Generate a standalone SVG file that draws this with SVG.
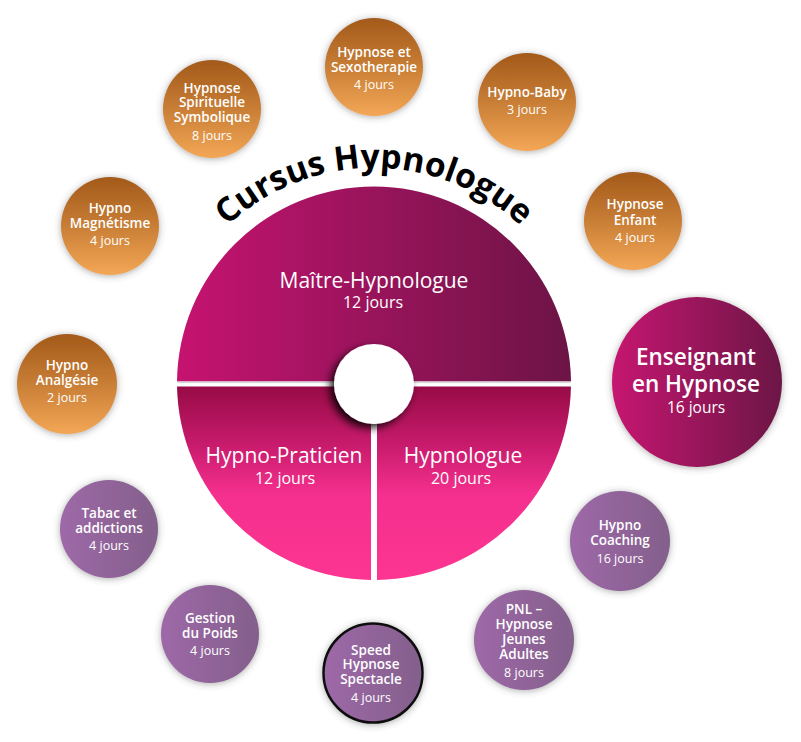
<svg xmlns="http://www.w3.org/2000/svg" width="801" height="742" viewBox="0 0 801 742">
<defs>
<style>
.t{font-family:"Open Sans","Liberation Sans",sans-serif;fill:#fff;text-anchor:middle}
.h{font-size:13.5px;font-weight:600}
.d{font-size:12.5px;font-weight:400}
.big{font-size:21px;font-weight:500}
.bd{font-size:16px;font-weight:400}
.org{fill:url(#gOrange);filter:url(#sh)}
.pur{fill:url(#gPurple);filter:url(#sh)}
</style>
<linearGradient id="gOrange" x1="0" y1="0" x2="0" y2="1">
<stop offset="0" stop-color="#a35a1a"/>
<stop offset="0.45" stop-color="#c47a32"/>
<stop offset="1" stop-color="#f3a756"/>
</linearGradient>
<linearGradient id="gPurple" x1="0" y1="0" x2="1" y2="0">
<stop offset="0" stop-color="#9e68a8"/>
<stop offset="1" stop-color="#83608b"/>
</linearGradient>
<linearGradient id="gMag" x1="0" y1="0" x2="1" y2="0">
<stop offset="0" stop-color="#c61370"/>
<stop offset="1" stop-color="#6c1446"/>
</linearGradient>
<linearGradient id="gPink" gradientUnits="userSpaceOnUse" x1="0" y1="387" x2="0" y2="580">
<stop offset="0" stop-color="#980b46"/>
<stop offset="0.3" stop-color="#c81b6d"/>
<stop offset="0.55" stop-color="#f42f8d"/>
<stop offset="1" stop-color="#fd3592"/>
</linearGradient>
<filter id="sh" x="-30%" y="-30%" width="160%" height="160%">
<feDropShadow dx="0" dy="1" stdDeviation="3.5" flood-color="#444" flood-opacity="0.45"/>
</filter>
<filter id="hsh" x="-40%" y="-40%" width="180%" height="180%">
<feDropShadow dx="-4" dy="4" stdDeviation="4" flood-color="#000" flood-opacity="0.9"/>
</filter>
<path id="arc" d="M 187.8,275.5 A 215 215 0 0 1 560.2,275.5"/>
</defs>
<rect width="801" height="742" fill="#fff"/>

<g id="cursus">
<path id="maitre" d="M 177.01,381.5 A 197 197 0 0 1 570.99,381.5 Z" fill="url(#gMag)"/>
<path id="praticien" d="M 177.03,386.5 L 371,386.5 L 371,579.98 A 197 197 0 0 1 177.03,386.5 Z" fill="url(#gPink)"/>
<path id="hypnologue" d="M 377,386.5 L 570.97,386.5 A 197 197 0 0 1 377,579.98 Z" fill="url(#gPink)"/>
<rect x="178" y="381.5" width="392" height="1.6" fill="#d8d8d8"/>
<circle cx="374" cy="384" r="40" fill="#fff" filter="url(#hsh)"/>
<text class="t big" x="374" y="288">Maître-Hypnologue</text>
<text class="t bd" x="373" y="308">12 jours</text>
<text class="t big" x="284" y="463">Hypno-Praticien</text>
<text class="t bd" x="285" y="484">12 jours</text>
<text class="t big" x="463" y="463">Hypnologue</text>
<text class="t bd" x="461" y="484">20 jours</text>
</g>

<g id="title">
<text font-family="'Open Sans','Liberation Sans',sans-serif" font-size="33.5" font-weight="700" fill="#000" text-anchor="middle"><textPath href="#arc" startOffset="50%">Cursus Hypnologue</textPath></text>
</g>

<g id="sexotherapie">
<circle class="org" cx="374" cy="67" r="49"/>
<text class="t h" x="374" y="57">Hypnose et</text>
<text class="t h" x="374" y="72">Sexotherapie</text>
<text class="t d" x="374" y="89">4 jours</text>
</g>
<g id="baby">
<circle class="org" cx="527" cy="102" r="49"/>
<text class="t h" x="527" y="97">Hypno-Baby</text>
<text class="t d" x="527" y="114">3 jours</text>
</g>
<g id="enfant">
<circle class="org" cx="633" cy="221" r="49"/>
<text class="t h" x="635" y="209">Hypnose</text>
<text class="t h" x="635" y="225">Enfant</text>
<text class="t d" x="635" y="242">4 jours</text>
</g>
<g id="spirituelle">
<circle class="org" cx="212" cy="109" r="49"/>
<text class="t h" x="212" y="93">Hypnose</text>
<text class="t h" x="212" y="107">Spirituelle</text>
<text class="t h" x="212" y="122">Symbolique</text>
<text class="t d" x="212" y="140">8 jours</text>
</g>
<g id="magnetisme">
<circle class="org" cx="110" cy="226" r="49"/>
<text class="t h" x="110" y="213">Hypno</text>
<text class="t h" x="110" y="228">Magnétisme</text>
<text class="t d" x="110" y="245">4 jours</text>
</g>
<g id="analgesie">
<circle class="org" cx="67" cy="384" r="50"/>
<text class="t h" x="67" y="370">Hypno</text>
<text class="t h" x="67" y="385">Analgésie</text>
<text class="t d" x="67" y="402">2 jours</text>
</g>

<g id="enseignant">
<circle cx="697" cy="382" r="85" fill="url(#gMag)" filter="url(#sh)"/>
<text class="t" x="696" y="365" font-size="22.5" font-weight="600">Enseignant</text>
<text class="t" x="696" y="392" font-size="22.5" font-weight="600">en Hypnose</text>
<text class="t" x="696" y="413" font-size="15.5">16 jours</text>
</g>

<g id="tabac">
<circle class="pur" cx="109" cy="529" r="49"/>
<text class="t h" x="109" y="518">Tabac et</text>
<text class="t h" x="109" y="533">addictions</text>
<text class="t d" x="109" y="550">4 jours</text>
</g>
<g id="poids">
<circle class="pur" cx="210" cy="634" r="49"/>
<text class="t h" x="210" y="623">Gestion</text>
<text class="t h" x="210" y="638">du Poids</text>
<text class="t d" x="210" y="655">4 jours</text>
</g>
<g id="speed">
<circle cx="373" cy="673" r="49.5" fill="url(#gPurple)" stroke="#111" stroke-width="2.5" filter="url(#sh)"/>
<text class="t h" x="371" y="655">Speed</text>
<text class="t h" x="371" y="669">Hypnose</text>
<text class="t h" x="371" y="684">Spectacle</text>
<text class="t d" x="371" y="702">4 jours</text>
</g>
<g id="pnl">
<circle class="pur" cx="524" cy="640" r="50"/>
<text class="t h" x="524" y="614">PNL –</text>
<text class="t h" x="524" y="629">Hypnose</text>
<text class="t h" x="524" y="644">Jeunes</text>
<text class="t h" x="524" y="659">Adultes</text>
<text class="t d" x="524" y="677">8 jours</text>
</g>
<g id="coaching">
<circle class="pur" cx="620" cy="541" r="50"/>
<text class="t h" x="620" y="530">Hypno</text>
<text class="t h" x="620" y="545">Coaching</text>
<text class="t d" x="620" y="563">16 jours</text>
</g>
</svg>
